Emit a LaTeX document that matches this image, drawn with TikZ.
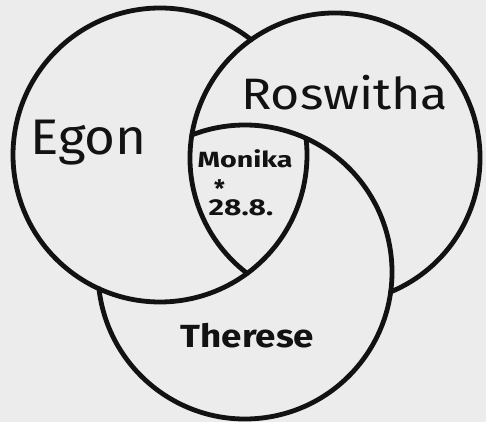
\documentclass[tikz,border=0pt]{standalone}
\usepackage{fontspec}
\usepackage{graphicx}
\setmainfont{Fira Sans}
\definecolor{paper}{RGB}{236,236,236}
\definecolor{ink}{RGB}{18,18,18}
\begin{document}
\begin{tikzpicture}[x=1pt,y=1pt,
  ring/.style={line width=4.8pt, line cap=round, draw=ink},
  lbl/.style={inner sep=0pt, anchor=base, text=ink}]
\fill[paper] (0,0) rectangle (486,422);
\useasboundingbox (0,0) rectangle (486,422);
\coordinate (E) at (160,267);
\coordinate (R) at (335,264);
\coordinate (T) at (245,150);
% Egon circle (arc inside Roswitha, outside Therese left out)
\draw[ring] (E) ++(51.66:147) arc[start angle=51.66, end angle=366.52, radius=147];
% Roswitha circle (arc inside Therese, outside Egon left out)
\draw[ring] (R) ++(292.55:145) arc[start angle=292.55, end angle=592.7, radius=145];
% Therese circle (arc inside Egon, outside Roswitha left out)
\draw[ring] (T) ++(186.5:147) arc[start angle=186.5, end angle=471.2, radius=147];
\node[lbl] (egon) at (89,267) {\scalebox{1.06}[1]{\fontsize{50}{50}\selectfont Egon}};
\node[lbl] (roswitha) at (344.5,312) {\scalebox{1.14}[1]{\fontsize{44}{44}\selectfont Roswitha}};
\node[lbl] (monika) at (245,254) {\scalebox{1.3}[1]{\fontsize{22}{22}\selectfont\bfseries Monika}};
\node[lbl, anchor=base west] (birth) at (208.5,206) {\shortstack[l]{\hspace{5.5pt}{\fontsize{24}{24}\selectfont\bfseries *}\\ \scalebox{1.3}[1]{\fontsize{23}{23}\selectfont\bfseries 28.8.}}};
\node[lbl] (therese) at (247.5,74) {\scalebox{1.15}[1]{\fontsize{32}{32}\selectfont\bfseries Therese}};
\end{tikzpicture}
\end{document}
